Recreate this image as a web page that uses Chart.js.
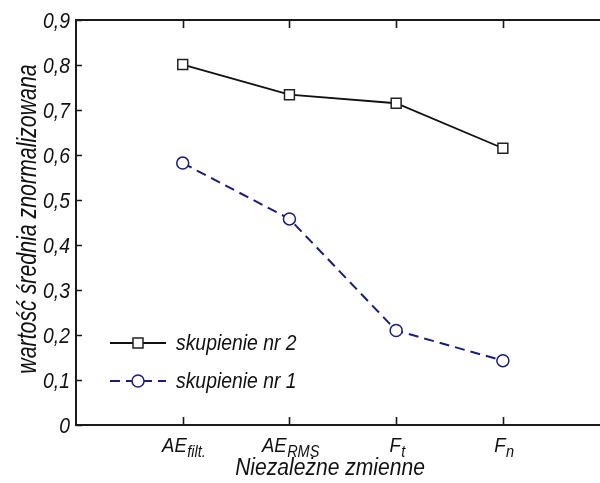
<!DOCTYPE html>
<html>
<head>
<meta charset="utf-8">
<script src="https://cdn.jsdelivr.net/npm/chart.js@4"></script>
<style>
html,body{margin:0;padding:0;background:#fff;}
#c{display:block;}
</style>
</head>
<body>
<canvas id="c" width="600" height="483"></canvas>
<script>
// ---- data ----
const categoryMain = ['AE', 'AE', 'F', 'F'];
const categorySub = ['filt.', 'RMS', 't', 'n'];
const seriesLabels = ['skupienie nr 2', 'skupienie nr 1'];
const cluster2 = [0.801, 0.734, 0.715, 0.615];
const cluster1 = [0.582, 0.458, 0.210, 0.143];
const yTickValues = [0, 0.1, 0.2, 0.3, 0.4, 0.5, 0.6, 0.7, 0.8, 0.9];
const yTickLabels = ['0', '0,1', '0,2', '0,3', '0,4', '0,5', '0,6', '0,7', '0,8', '0,9'];
const xTitle = 'Niezależne zmienne';
const yTitle = 'wartość średnia znormalizowana';

const FONT = "'Liberation Sans', Arial, sans-serif";
const SQ = 0.88; // horizontal squeeze to mimic a narrow face
const AXIS = '#1a1a1a';
const TEXT = '#111';
const NAVY = '#1c1c7c';

const toPts = arr => arr.map((v, i) => ({x: i + 1, y: v}));

function measure(ctx, txt, size) {
  ctx.font = 'italic ' + size + 'px ' + FONT;
  return ctx.measureText(txt).width * SQ;
}
function drawText(ctx, txt, x, y, size, align, sq) {
  ctx.save();
  ctx.font = 'italic ' + size + 'px ' + FONT;
  ctx.fillStyle = TEXT;
  ctx.textBaseline = 'alphabetic';
  ctx.textAlign = align || 'left';
  ctx.translate(x, y);
  ctx.scale(sq || SQ, 1);
  ctx.fillText(txt, 0, 0);
  ctx.restore();
}

const axesPlugin = {
  id: 'axesPlugin',
  beforeDatasetsDraw(chart) {
    const {ctx, chartArea: a, scales: {x, y}} = chart;
    ctx.save();
    ctx.strokeStyle = AXIS;
    ctx.lineWidth = 2;
    ctx.beginPath();
    ctx.moveTo(a.left - 1, a.top); ctx.lineTo(600, a.top);
    ctx.moveTo(a.left, a.top - 1); ctx.lineTo(a.left, a.bottom + 1);
    ctx.moveTo(a.left - 1, a.bottom); ctx.lineTo(600, a.bottom);
    ctx.stroke();
    ctx.lineWidth = 1.6;
    ctx.beginPath();
    yTickValues.forEach(v => {
      const py = Math.round(y.getPixelForValue(v)) + 0.5;
      ctx.moveTo(a.left, py); ctx.lineTo(a.left + 6, py);
    });
    categoryMain.forEach((_, i) => {
      const px = Math.round(x.getPixelForValue(i + 1)) + 0.5;
      ctx.moveTo(px, a.bottom); ctx.lineTo(px, a.bottom - 8);
      ctx.moveTo(px, a.top); ctx.lineTo(px, a.top + 8);
    });
    ctx.stroke();
    ctx.restore();

    // y tick labels
    yTickValues.forEach((v, i) => {
      drawText(ctx, yTickLabels[i], a.left - 6, y.getPixelForValue(v) + 8, 22, 'right');
    });

    // x tick labels with subscripts
    categoryMain.forEach((m, i) => {
      const px = x.getPixelForValue(i + 1);
      const wm = measure(ctx, m, 21);
      const ws = measure(ctx, categorySub[i], 16.5);
      const start = px - (wm + ws) / 2 + 1;
      drawText(ctx, m, start, 452, 21);
      drawText(ctx, categorySub[i], start + wm + 0.5, 457, 16.5);
    });

    // axis titles
    drawText(ctx, xTitle, 330, 475, 24.5, 'center', 0.86);
    ctx.save();
    ctx.translate(36, 219);
    ctx.rotate(-Math.PI / 2);
    drawText(ctx, yTitle, 0, 0, 27, 'center', 0.79);
    ctx.restore();
  },
  afterDatasetsDraw(chart) {
    const {ctx} = chart;
    const rows = [
      {ds: chart.data.datasets[0], y: 343},
      {ds: chart.data.datasets[1], y: 381}
    ];
    ctx.save();
    rows.forEach(r => {
      const ds = r.ds;
      ctx.strokeStyle = ds.borderColor;
      ctx.lineWidth = ds.borderWidth;
      ctx.setLineDash(ds.borderDash || []);
      ctx.beginPath();
      ctx.moveTo(110, r.y); ctx.lineTo(166, r.y);
      ctx.stroke();
      ctx.setLineDash([]);
      ctx.fillStyle = '#fff';
      ctx.strokeStyle = ds.pointBorderColor;
      ctx.lineWidth = ds.pointBorderWidth;
      ctx.beginPath();
      if (ds.pointStyle === 'rect') {
        ctx.rect(133, r.y - 5, 10, 10);
      } else {
        ctx.arc(138, r.y, 6, 0, Math.PI * 2);
      }
      ctx.fill(); ctx.stroke();
      drawText(ctx, ds.label, 176, r.y + 7, 22);
    });
    ctx.restore();
  }
};

new Chart(document.getElementById('c'), {
  type: 'line',
  data: {
    datasets: [
      {
        label: seriesLabels[0],
        data: toPts(cluster2),
        borderColor: '#111',
        borderWidth: 1.8,
        pointStyle: 'rect',
        pointRadius: 7,
        pointBackgroundColor: '#fff',
        pointBorderColor: '#222',
        pointBorderWidth: 1.5,
        tension: 0
      },
      {
        label: seriesLabels[1],
        data: toPts(cluster1),
        borderColor: NAVY,
        borderWidth: 2,
        borderDash: [10, 6],
        pointStyle: 'circle',
        pointRadius: 6,
        pointBackgroundColor: '#fff',
        pointBorderColor: NAVY,
        pointBorderWidth: 1.5,
        tension: 0
      }
    ]
  },
  options: {
    responsive: false,
    animation: false,
    layout: {autoPadding: false, padding: {left: 76, top: 20, right: 0, bottom: 58}},
    plugins: {legend: {display: false}, tooltip: {enabled: false}},
    scales: {
      x: {type: 'linear', min: 0, max: 4.91, display: false},
      y: {type: 'linear', min: 0, max: 0.9, display: false}
    }
  },
  plugins: [axesPlugin]
});
</script>
</body>
</html>
